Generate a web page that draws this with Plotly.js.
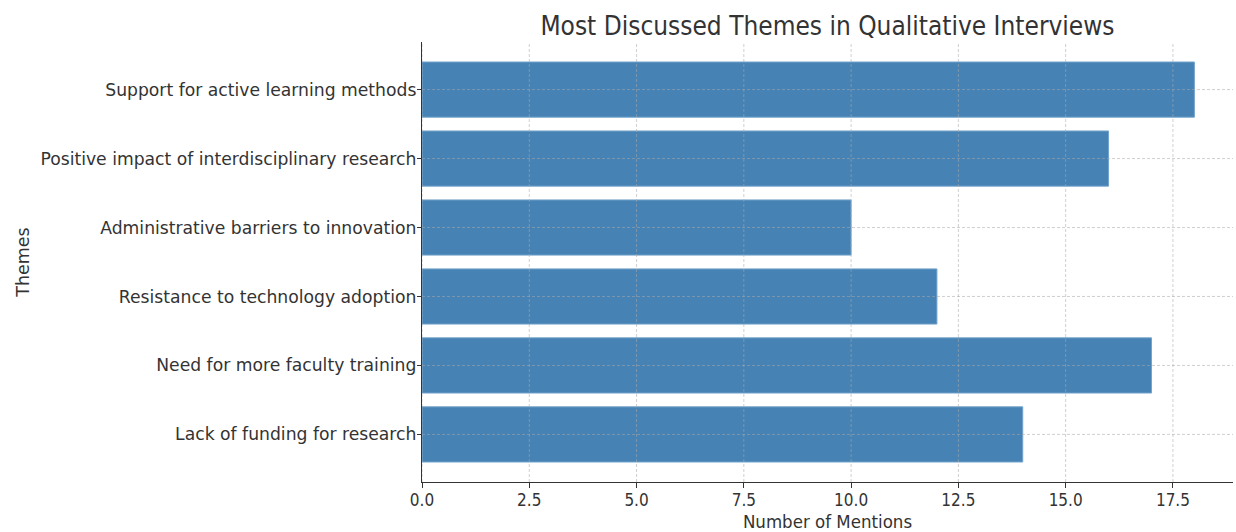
<!DOCTYPE html>
<html>
<head>
<meta charset="utf-8">
<script src="https://cdn.plot.ly/plotly-3.0.1.min.js"></script>
<style>html,body{margin:0;padding:0;background:#fff;}#chart{width:1236px;height:532px;}</style>
</head>
<body>
<div id="chart"></div>
<script>
const themes = [
  "Lack of funding for research",
  "Need for more faculty training",
  "Resistance to technology adoption",
  "Administrative barriers to innovation",
  "Positive impact of interdisciplinary research",
  "Support for active learning methods"
];
const mentions = [14, 17, 12, 10, 16, 18];
const xTicks = [0, 2.5, 5, 7.5, 10, 12.5, 15, 17.5];
const xTickLabels = ["0.0", "2.5", "5.0", "7.5", "10.0", "12.5", "15.0", "17.5"];

const condensed = "DejaVu Sans Condensed, Liberation Sans Narrow, DejaVu Sans, sans-serif";
const normal = "DejaVu Sans, sans-serif";
const yIdx = themes.map((t, i) => i);

const trace = {
  type: "bar",
  orientation: "h",
  y: yIdx,
  x: mentions,
  marker: {color: "#4682b4", line: {color: "#73a3cb", width: 1}},
  width: 0.8,
  hoverinfo: "x+text",
  text: themes,
  textposition: "none"
};

const gridStyle = {color: "rgba(170,170,170,0.55)", width: 1, dash: "3px,2px"};
const shapes = [];
xTicks.forEach(v => shapes.push({type: "line", layer: "above", xref: "x", yref: "paper", x0: v, x1: v, y0: 0, y1: 1, line: gridStyle}));
yIdx.forEach(v => shapes.push({type: "line", layer: "above", xref: "paper", yref: "y", x0: 0, x1: 1, y0: v, y1: v, line: gridStyle}));

const layout = {
  width: 1236,
  height: 532,
  margin: {l: 422, r: 3, t: 42, b: 50},
  paper_bgcolor: "#fff",
  plot_bgcolor: "#fff",
  showlegend: false,
  shapes: shapes,
  title: {
    text: "Most Discussed Themes in Qualitative Interviews",
    font: {family: condensed, size: 26, color: "#333"},
    x: 0.5, xref: "paper", xanchor: "center",
    y: 0.952, yref: "container", yanchor: "middle"
  },
  xaxis: {
    range: [0, 18.9],
    tickvals: xTicks,
    ticktext: xTickLabels,
    ticks: "outside", ticklen: 5, tickcolor: "#333", tickwidth: 1,
    ticklabelstandoff: -3,
    tickfont: {family: condensed, size: 17, color: "#333"},
    showgrid: false,
    showline: true, linecolor: "#333", linewidth: 1.2,
    zeroline: false,
    title: {text: "Number of Mentions", font: {family: condensed, size: 18.5, color: "#333"}, standoff: 10}
  },
  yaxis: {
    range: [-0.69, 5.69],
    tickvals: yIdx,
    ticktext: themes,
    ticks: "outside", ticklen: 4, tickcolor: "#333", tickwidth: 1,
    ticklabelstandoff: -3,
    tickfont: {family: normal, size: 17.2, color: "#333"},
    showgrid: false,
    showline: true, linecolor: "#333", linewidth: 1.2,
    zeroline: false,
    title: {text: "Themes", font: {family: normal, size: 17.5, color: "#333"}, standoff: 6}
  }
};

Plotly.newPlot("chart", [trace], layout, {displayModeBar: false, staticPlot: true});
</script>
</body>
</html>
